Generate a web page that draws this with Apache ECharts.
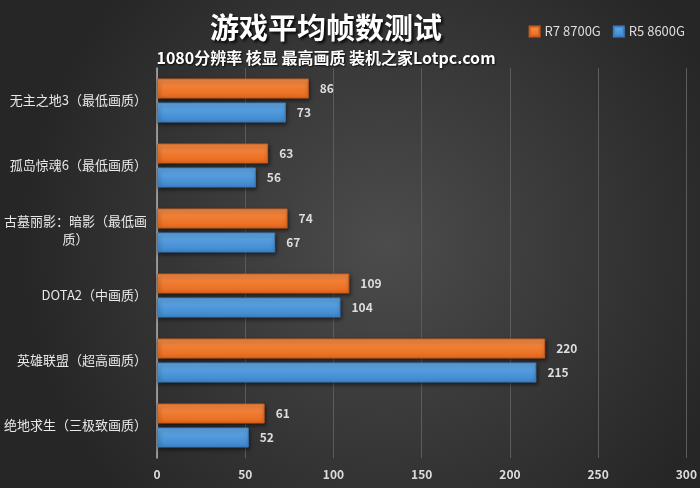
<!DOCTYPE html>
<html><head><meta charset="utf-8">
<script src="https://cdn.jsdelivr.net/npm/echarts@6/dist/echarts.min.js"></script>
<style>html,body{margin:0;padding:0;background:#333}#c{width:700px;height:488px}</style>
</head><body><div id="c"></div>
<script>
const categories = ['无主之地3（最低画质）','孤岛惊魂6（最低画质）','古墓丽影：暗影（最低画质）','DOTA2（中画质）','英雄联盟（超高画质）','绝地求生（三极致画质）'];
const seriesNames = ['R7 8700G','R5 8600G'];
const r7Values = [86, 63, 74, 109, 220, 61];
const r5Values = [73, 56, 67, 104, 215, 52];
const xTicks = {min: 0, max: 300, interval: 50};

const font = '"Noto Sans CJK SC", "Noto Sans", sans-serif';
const chart = echarts.init(document.getElementById('c'));
function grad(c1, c2){
  return new echarts.graphic.LinearGradient(0,0,0,1,[{offset:0,color:c1},{offset:1,color:c2}]);
}
chart.setOption({
  backgroundColor: new echarts.graphic.RadialGradient(0.55,0.5,0.75,[{offset:0,color:'#4c4c4c'},{offset:1,color:'#262626'}]),
  animation: false,
  title: {
    text: '游戏平均帧数测试',
    subtext: '1080分辨率 核显 最高画质 装机之家Lotpc.com',
    left: 321, textAlign: 'center', top: 8, itemGap: 8,
    textStyle: {color:'#fff', fontSize: 29, fontWeight:'bold', fontFamily: font, textShadowColor:'rgba(0,0,0,0.9)', textShadowBlur:3, textShadowOffsetX:2, textShadowOffsetY:2},
    subtextStyle: {color:'#fff', fontSize: 16, fontWeight:'bold', fontFamily: font, textShadowColor:'rgba(0,0,0,0.8)', textShadowBlur:2, textShadowOffsetX:1, textShadowOffsetY:1}
  },
  legend: {
    right: 10, top: 20, icon: 'rect', itemWidth: 10, itemHeight: 10, itemGap: 12,
    textStyle: {color:'#ddd', fontSize: 13, fontFamily: font},
    data: seriesNames
  },
  grid: {left: 157, right: 12, top: 68, bottom: 30},
  xAxis: {
    type: 'value', min: xTicks.min, max: xTicks.max, interval: xTicks.interval,
    axisLine: {show:false}, axisTick: {show:false},
    splitLine: {lineStyle:{color:'#5c5c5c', width:1}},
    axisLabel: {color:'#ddd', fontSize: 12, fontWeight:'bold', fontFamily: font, margin: 10}
  },
  yAxis: {
    type: 'category', inverse: true, data: categories,
    axisLine: {lineStyle:{color:'#b0b0b0', width: 1.5}}, axisTick: {show:false},
    axisLabel: {
      color:'#e8e8e8', fontSize: 13, fontFamily: font, margin: 10, lineHeight: 18,
      formatter: function(v){
        if (v.length > 11) return '{a|' + v.slice(0,11) + '}\n{b|' + v.slice(11) + '}';
        return v;
      },
      rich: {a:{color:'#e8e8e8', fontSize:13, fontFamily:font, lineHeight:18}, b:{color:'#e8e8e8', fontSize:13, fontFamily:font, lineHeight:18, align:'center'}}
    }
  },
  series: [
    {name: seriesNames[0], type:'bar', data: r7Values, barWidth: 20, barGap: '20%',
     itemStyle: {color: grad('#f68e48','#e8681a'), borderColor:'#c85a1c', borderWidth:1, shadowColor:'rgba(0,0,0,0.55)', shadowBlur:4, shadowOffsetX:1, shadowOffsetY:2},
     label: {show:true, position:'right', distance: 11, color:'#ddd', fontSize:12, fontWeight:'bold', fontFamily: font}},
    {name: seriesNames[1], type:'bar', data: r5Values, barWidth: 20, barGap: '20%',
     itemStyle: {color: grad('#64abe8','#3d86cd'), borderColor:'#3a7dbd', borderWidth:1, shadowColor:'rgba(0,0,0,0.55)', shadowBlur:4, shadowOffsetX:1, shadowOffsetY:2},
     label: {show:true, position:'right', distance: 11, color:'#ddd', fontSize:12, fontWeight:'bold', fontFamily: font}}
  ]
});
</script></body></html>
